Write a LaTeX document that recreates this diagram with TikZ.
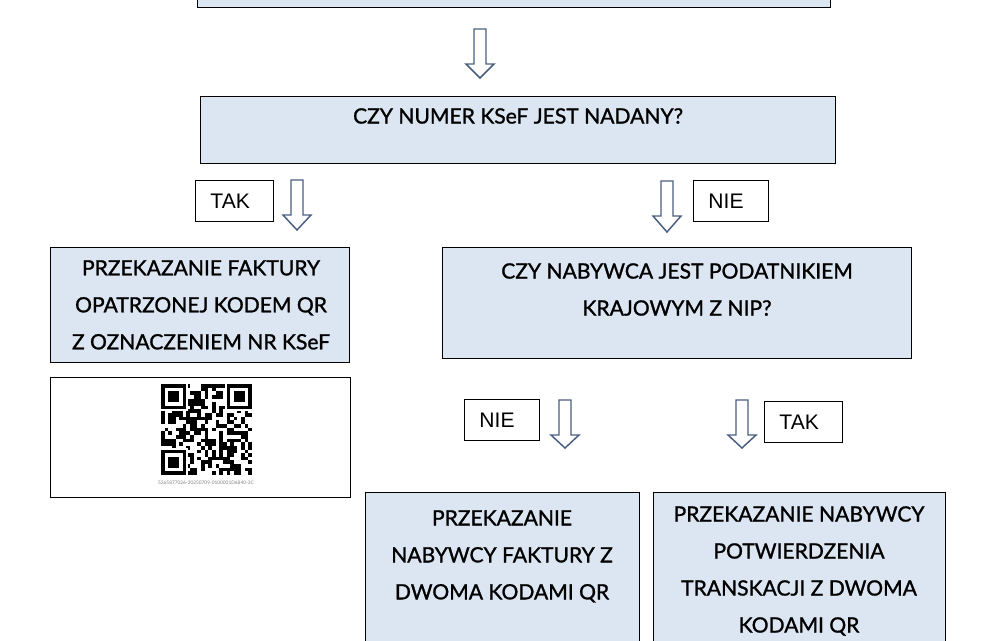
\documentclass[tikz,border=0pt]{standalone}
\usepackage{fontspec}
\setmainfont{Lato}
\newfontfamily\boxfont{Lato}[UprightFeatures={FakeBold=1.2}]
\newfontfamily\labelfont{Liberation Sans}
\usetikzlibrary{positioning}
\definecolor{boxblue}{HTML}{DCE6F2}
\definecolor{arrowblue}{HTML}{4A5E80}
\tikzset{
  box/.style={draw=black, line width=0.9pt, fill=boxblue, inner sep=0pt},
  boxtext/.style={anchor=north, align=center, inner sep=0pt, font=\boxfont\fontsize{15.8}{27.75}\selectfont},
  answer/.style={draw=black, line width=0.7pt, anchor=north west, inner xsep=11.25pt, inner ysep=0pt,
    text width=#1, align=left, minimum height=31pt, font=\labelfont\fontsize{15.8}{16}\selectfont},
  arrowline/.style={draw=arrowblue, line width=1.1pt, fill=white, line join=miter},
  pics/downarrow/.style={code={
    \path[arrowline] (-6,0) -- (-6,35) -- (-14,35) -- (0,#1) -- (14,35) -- (6,35) -- (6,0) -- cycle;
  }}
}
\begin{document}
\begin{tikzpicture}[x=0.75pt,y=-0.75pt]
  \useasboundingbox (0,0) rectangle (991,640);
  \def\qrm{3.64}

  % top box (cut by the page)
  \node[box, minimum width=633*0.75pt, minimum height=40*0.75pt, anchor=south west] (start) at (197,8) {};
  \pic at (480,29) {downarrow=49};

  % question KSeF
  \node[box, minimum width=635*0.75pt, minimum height=67*0.75pt, anchor=north west] (ksef) at (200,96) {};
  \node[boxtext] (ksefq) at (518,108) {CZY NUMER KSeF JEST NADANY?};

  % TAK / NIE
  \node[answer=36pt] (tak1) at (195,180) {TAK};
  \pic at (297,180) {downarrow=50};
  \pic at (667,181) {downarrow=51};
  \node[answer=34pt] (nie1) at (693,180) {NIE};

  % left branch
  \node[box, minimum width=299*0.75pt, minimum height=115*0.75pt, anchor=north west] (przek) at (50,247) {};
  \node[boxtext] (przekt) at (201,260) {PRZEKAZANIE FAKTURY\\OPATRZONEJ KODEM QR\\Z OZNACZENIEM NR KSeF};

  % QR
  \node[draw=black, line width=0.9pt, fill=white, minimum width=300*0.75pt, minimum height=120*0.75pt,
    anchor=north west, inner sep=0pt] (qrbox) at (50,377) {};
  \pgfmathsetseed{42}
  \foreach \i in {0,...,24}{
    \foreach \j in {0,...,24}{
      \pgfmathtruncatemacro\bit{rnd>0.5}
      \ifnum\bit=1
        \fill ({161+\i*\qrm},{384+\j*\qrm}) rectangle +(\qrm,\qrm);
      \fi
    }
  }
  \foreach \fx/\fy in {0/0,18/0,0/18}{
    \fill[white] ({161+(\fx-0.5)*\qrm},{384+(\fy-0.5)*\qrm}) rectangle +(8*\qrm,8*\qrm);
    \fill ({161+\fx*\qrm},{384+\fy*\qrm}) rectangle +(7*\qrm,7*\qrm);
    \fill[white] ({161+(\fx+1)*\qrm},{384+(\fy+1)*\qrm}) rectangle +(5*\qrm,5*\qrm);
    \fill ({161+(\fx+2)*\qrm},{384+(\fy+2)*\qrm}) rectangle +(3*\qrm,3*\qrm);
  }
  \node[font=\fontsize{3.6}{4}\selectfont, text=gray, inner sep=0pt] (qrnum) at (206,483) {5265877026-20250709-0100001D6840-3C};

  % right branch
  \node[box, minimum width=469*0.75pt, minimum height=111*0.75pt, anchor=north west] (nip) at (442,247) {};
  \node[boxtext] (nipq) at (677,263) {CZY NABYWCA JEST PODATNIKIEM\\KRAJOWYM Z NIP?};

  \node[answer=34pt] (nie2) at (464,399) {NIE};
  \pic at (565,400) {downarrow=48};
  \pic at (742,400) {downarrow=48};
  \node[answer=36pt] (tak2) at (764,401) {TAK};

  % bottom boxes (cut by the page)
  \node[box, minimum width=274*0.75pt, minimum height=170*0.75pt, anchor=north west] (dwa) at (365,492) {};
  \node[boxtext] (dwat) at (502,510) {PRZEKAZANIE\\NABYWCY FAKTURY Z\\DWOMA KODAMI QR};
  \node[box, minimum width=292*0.75pt, minimum height=170*0.75pt, anchor=north west] (potw) at (653,492) {};
  \node[boxtext] (potwt) at (799,506) {PRZEKAZANIE NABYWCY\\POTWIERDZENIA\\TRANSKACJI Z DWOMA\\KODAMI QR};
\end{tikzpicture}
\end{document}
